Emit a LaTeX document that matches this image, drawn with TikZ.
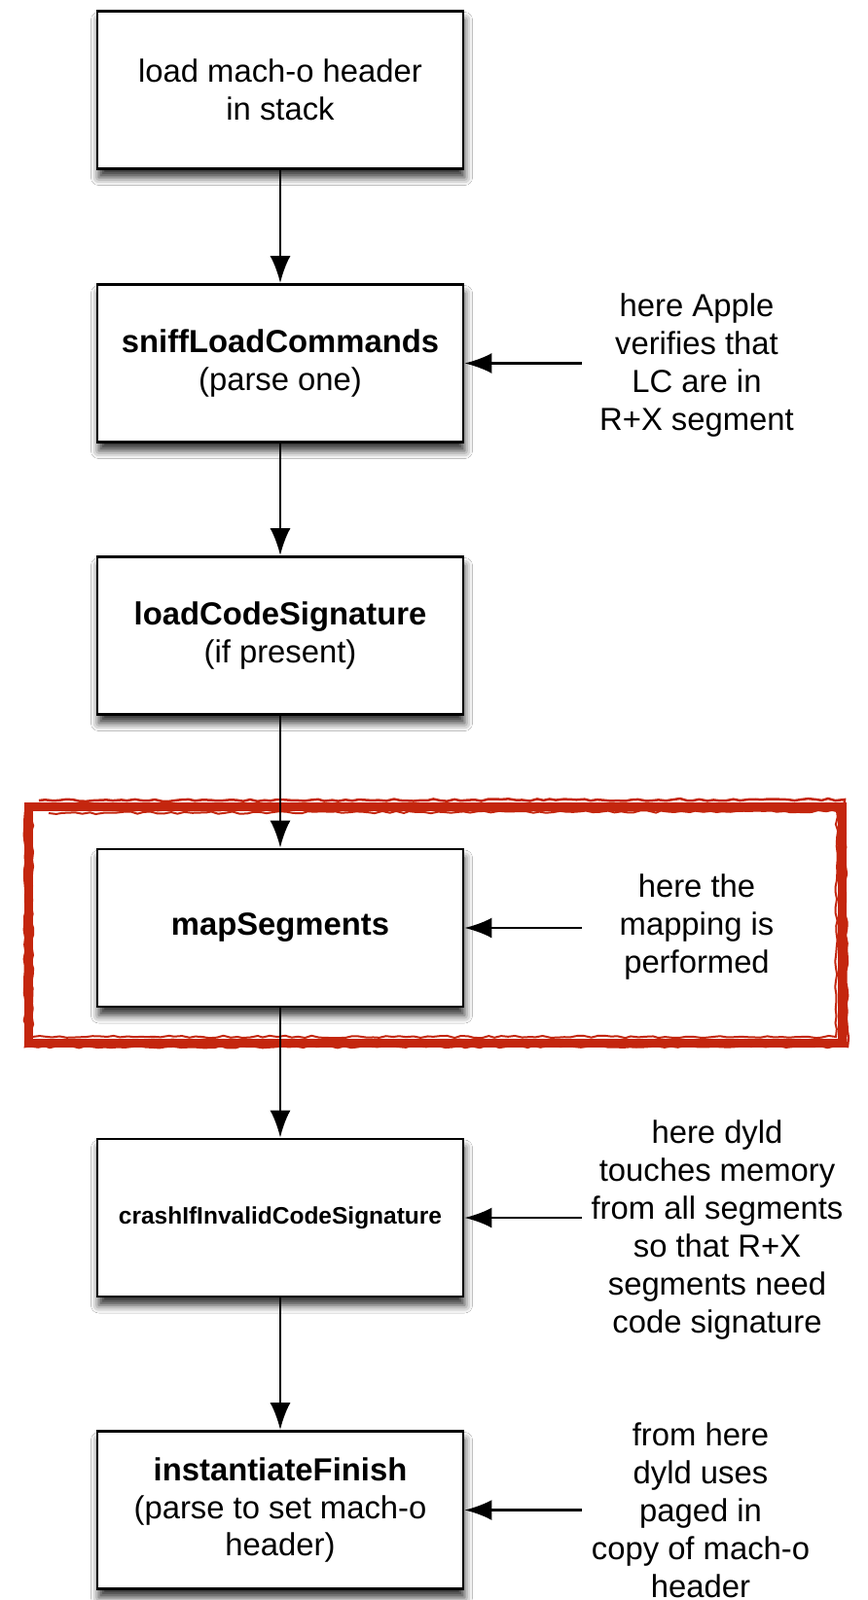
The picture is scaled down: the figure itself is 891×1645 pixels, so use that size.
\documentclass[tikz,border=0pt]{standalone}
\usepackage{fontspec}
\setmainfont{Liberation Sans}
\usetikzlibrary{arrows.meta,shadows.blur,decorations.pathmorphing}
\definecolor{sketchred}{RGB}{196,38,14}
\begin{document}
\begin{tikzpicture}[x=1pt,y=-1pt,
  box/.style={draw, line width=2.8pt, fill=white, minimum width=376pt, minimum height=162pt,
    align=center, inner sep=0pt, font=\fontsize{32.8pt}{38.5pt}\selectfont,
    blur shadow={shadow xshift=1.5pt, shadow yshift=-9pt, shadow opacity=80, shadow blur radius=8pt}},
  note/.style={align=center, inner sep=0pt, font=\fontsize{32.8pt}{39pt}\selectfont},
  arr/.style={line width=2.8pt, -{Latex[length=28pt,width=21pt]}},
  rough/.style={draw=sketchred, decorate, decoration={random steps, segment length=7pt, amplitude=1.2pt}}]
\useasboundingbox (0,0) rectangle (891,1645);
\fill[white] (0,0) rectangle (891,1645);

% red sketch highlight
\draw[sketchred, line width=9pt] (29,829) rectangle (865,1072);
\draw[rough, line width=2.5pt] (40,823) -- (868,822) -- (871,1076) -- (26,1076) -- (26,835);
\draw[rough, line width=2pt] (50,836) -- (860,834) -- (859,1066) -- (33,1066) -- (33,845);
\draw[rough, line width=1.5pt, opacity=.8] (100,833) -- (700,832);
\draw[rough, line width=1.5pt, opacity=.8] (150,1069) -- (800,1070);

% boxes
\node[box] (b1) at (288,92.5) {load mach-o header\\in stack};
\node[box] (b2) at (288,373.5) {\textbf{sniffLoadCommands}\\(parse one)};
\node[box] (b3) at (288,653.5) {\textbf{loadCodeSignature}\\(if present)};
\node[box] (b4) at (288,954) {\textbf{mapSegments}};
\node[box, font=\fontsize{24.5pt}{30pt}\selectfont\bfseries] (b5) at (288,1252) {crashIfInvalidCodeSignature};
\node[box] (b6) at (288,1552.5) {\textbf{instantiateFinish}\\(parse to set mach-o\\header)};

% notes
\node[note] (n2) at (716,376) {here Apple\\verifies that\\LC are in\\R+X segment};
\node[note] (n4) at (716,953) {here the\\mapping is\\performed};
\node[note] (n5) at (737,1265) {here dyld\\touches memory\\from all segments\\so that R+X\\segments need\\code signature};
\node[note] (n6) at (720,1553) {from here\\dyld uses\\paged in\\copy of mach-o\\header};

% arrow starts
\coordinate (x0) at (598,0);
\coordinate (s2) at (x0 |- b2.east);
\coordinate (s4) at (x0 |- b4.east);
\coordinate (s5) at (x0 |- b5.east);
\coordinate (s6) at (x0 |- b6.east);

% connectors
\draw[arr] (b1) -- (b2);
\draw[arr] (b2) -- (b3);
\draw[arr] (b3) -- (b4);
\draw[arr] (b4) -- (b5);
\draw[arr] (b5) -- (b6);
\draw[arr] (s2) -- (b2.east);
\draw[arr] (s4) -- (b4.east);
\draw[arr] (s5) -- (b5.east);
\draw[arr] (s6) -- (b6.east);
\end{tikzpicture}
\end{document}
